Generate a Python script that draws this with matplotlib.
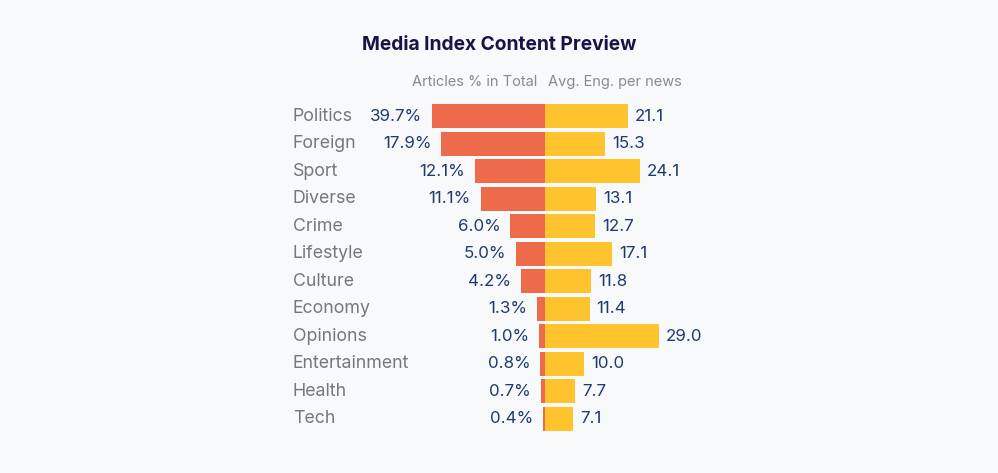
import numpy as np
import matplotlib.pyplot as plt
from matplotlib.transforms import blended_transform_factory

categories = ["Politics", "Foreign", "Sport", "Diverse", "Crime", "Lifestyle",
              "Culture", "Economy", "Opinions", "Entertainment", "Health", "Tech"]
article_share = [39.7, 17.9, 12.1, 11.1, 6.0, 5.0, 4.2, 1.3, 1.0, 0.8, 0.7, 0.4]
avg_engagement = [21.1, 15.3, 24.1, 13.1, 12.7, 17.1, 11.8, 11.4, 29.0, 10.0, 7.7, 7.1]

RED = "#ED6A4A"
YELLOW = "#FFC32E"
NAVY = "#1E3A70"
GRAY = "#777777"
BG = "#F8F9FB"
FONT = ["Inter", "DejaVu Sans"]

plt.rcParams["font.family"] = FONT

W, H = 998, 473
fig = plt.figure(figsize=(W / 100, H / 100), dpi=100, facecolor=BG)

# axes geometry in pixels
center_x = 545
left_cap = 19.5      # share axis is cut here, the biggest bar runs off the edge
px_per_pct = 5.8
px_per_eng = 3.93
right_max = 30
top_px, bot_px = 102.5, 432.5

y_bottom = 1 - bot_px / H
y_height = (bot_px - top_px) / H
left_w = left_cap * px_per_pct
right_w = right_max * px_per_eng

ax_l = fig.add_axes([(center_x - left_w) / W, y_bottom, left_w / W, y_height])
ax_r = fig.add_axes([center_x / W, y_bottom, right_w / W, y_height])

y = np.arange(len(categories))
bar_h = 0.87

ax_l.barh(y, article_share, height=bar_h, color=RED)
ax_l.set_xlim(left_cap, 0)
ax_r.barh(y, avg_engagement, height=bar_h, color=YELLOW)
ax_r.set_xlim(0, right_max)

for ax in (ax_l, ax_r):
    ax.set_ylim(len(categories) - 0.5, -0.5)
    ax.axis("off")
    ax.set_facecolor("none")

for yi, v in zip(y, article_share):
    ax_l.annotate(f"{v:.1f}%", xy=(min(v, left_cap), yi), xytext=(-7, 0),
                  textcoords="offset points", ha="right", va="center",
                  fontsize=12.2, color=NAVY, annotation_clip=False)

for yi, v in zip(y, avg_engagement):
    ax_r.annotate(f"{v:.1f}", xy=(v, yi), xytext=(5, 0),
                  textcoords="offset points", ha="left", va="center",
                  fontsize=12.2, color=NAVY, annotation_clip=False)

trans = blended_transform_factory(fig.transFigure, ax_l.transData)
for yi, name in zip(y, categories):
    fig.text(293 / W, yi, name, transform=trans, ha="left", va="center",
             fontsize=12.8, color=GRAY)

fig.text(537 / W, 1 - 82 / H, "Articles % in Total", ha="right", va="center",
         fontsize=10.5, color="#8A8A8A")
fig.text(548 / W, 1 - 82 / H, "Avg. Eng. per news", ha="left", va="center",
         fontsize=10.5, color="#8A8A8A")
fig.text(499 / W, 1 - 45 / H, "Media Index Content Preview", ha="center",
         va="center", fontsize=13.8, fontweight="bold", color="#1A1446")

fig.savefig("out.png", dpi=100, facecolor=BG)
